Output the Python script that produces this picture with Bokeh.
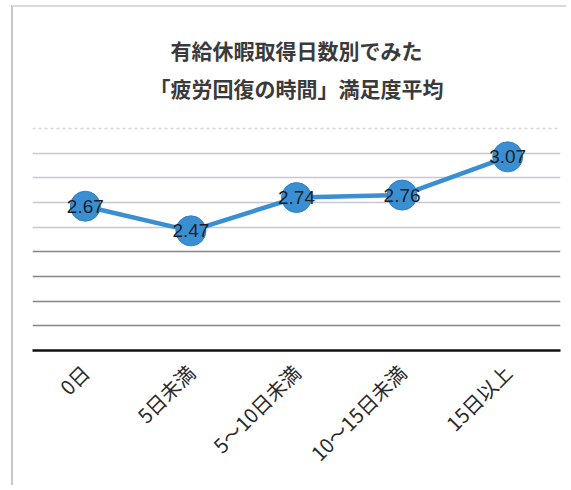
from bokeh.plotting import figure
from bokeh.models import Range1d, FixedTicker, Grid, ColumnDataSource
from bokeh.core.properties import value
from bokeh.embed import file_html
from bokeh.resources import INLINE

title_lines = ["有給休暇取得日数別でみた", "「疲労回復の時間」満足度平均"]
categories = ["0日", "5日未満", "5～10日未満", "10～15日未満", "15日以上"]
values = [2.67, 2.47, 2.74, 2.76, 3.07]
y_min, y_max = 1.5, 3.3
grid_top = [3.3]
grid_upper = [2.5, 2.7, 2.9, 3.1]
grid_lower = [1.7, 1.9, 2.1, 2.3]

W, H = 555, 480
frame_left, frame_right = 19, 547      # canvas px
top_grid_px, axis_px = 121, 343        # canvas px for y_max / y_min
px_per_unit = (axis_px - top_grid_px) / (y_max - y_min)
range_top = y_max + top_grid_px / px_per_unit

xs = list(range(len(categories)))
src = ColumnDataSource(dict(x=xs, y=values, lab=[f"{v:.2f}" for v in values]))

p = figure(width=W, height=H, output_backend="svg", toolbar_location=None,
           x_range=Range1d(-0.5, len(categories) - 0.5), y_range=Range1d(y_min, range_top),
           min_border_left=frame_left, min_border_right=W - frame_right,
           min_border_top=0, min_border_bottom=H - axis_px)
p.styles = {"margin-left": "11px", "margin-top": "5px",
            "border-left": "2px solid #c8c8c8", "border-top": "2px solid #dadada"}
p.outline_line_color = None
p.yaxis.visible = False
p.xgrid.visible = False
p.ygrid.visible = False

for ticks, col, w, dash in [(grid_top, "#d6d6d6", 1.5, "3 3"),
                            (grid_upper, "#c6c8d6", 1.5, "solid"),
                            (grid_lower, "#858585", 1.5, "solid")]:
    p.add_layout(Grid(dimension=1, ticker=FixedTicker(ticks=ticks), grid_line_color=col,
                      grid_line_width=w, grid_line_dash=dash))

xa = p.xaxis[0]
xa.ticker = FixedTicker(ticks=xs)
xa.major_label_overrides = {i: c for i, c in zip(xs, categories)}
xa.major_label_orientation = 0.785398
xa.major_label_standoff = 12
xa.major_label_text_font = "Noto Sans CJK JP"
xa.major_label_text_font_size = "20px"
xa.major_label_text_color = "#2a2a2a"
xa.axis_line_color = "#111111"
xa.axis_line_width = 2.5
xa.major_tick_line_color = None
xa.minor_tick_line_color = None

p.line("x", "y", source=src, line_width=4.5, line_color="#3a8fd2")
p.scatter("x", "y", source=src, size=30, fill_color="#3a8fd2", line_color="#2f80c4", line_width=1)
p.text("x", "y", text="lab", source=src, text_align="center", text_baseline="middle",
       text_font=value("Liberation Sans"), text_font_size="19px", text_color="#1a1e28")

title_src = ColumnDataSource(dict(
    x=[(len(categories) - 1) / 2] * len(title_lines),
    y=[y_max + d / px_per_unit for d in (79, 41)],
    t=title_lines))
p.text("x", "y", text="t", source=title_src, text_align="center", text_baseline="middle",
       text_font=value("Noto Sans CJK JP"), text_font_style="bold",
       text_font_size="21px", text_color="#3a3a3a")

open("out.html", "w").write(file_html(p, INLINE))
